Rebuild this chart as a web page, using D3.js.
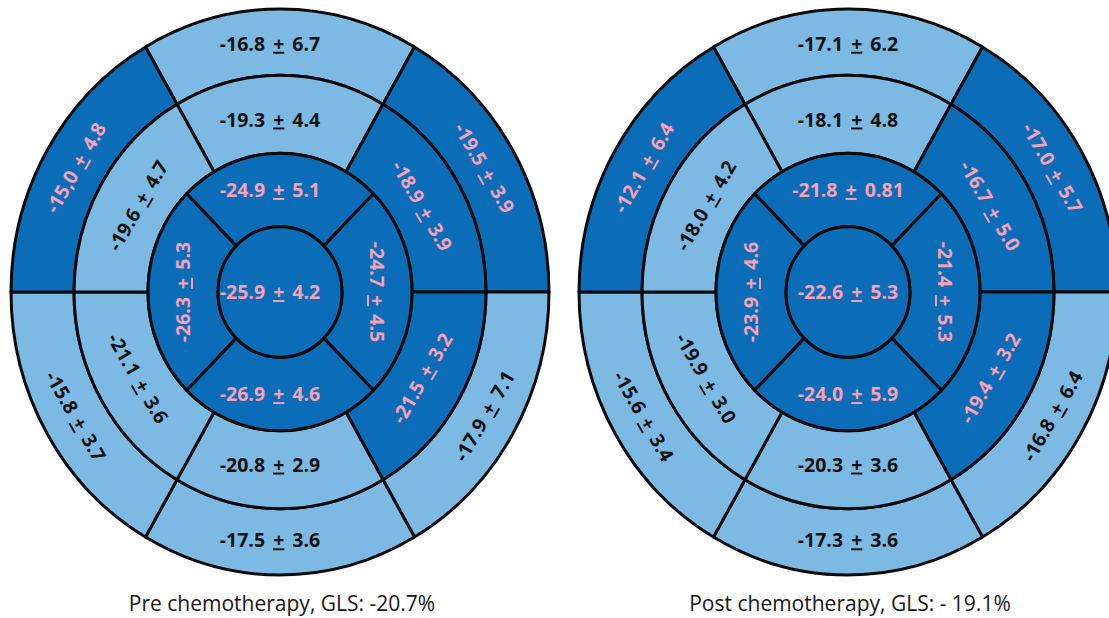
<!DOCTYPE html>
<html>
<head>
<meta charset="utf-8">
<script src="https://cdn.jsdelivr.net/npm/d3@7"></script>
<style>
  html, body { margin: 0; padding: 0; background: #ffffff; }
  svg { display: block; }
  text { font-family: "Open Sans", "DejaVu Sans", sans-serif; }
</style>
</head>
<body>
<svg id="chart" width="1109" height="618"></svg>
<script>
// ---------------- DATA ----------------
// Segments listed clockwise starting at the top (anterior) segment.
const ringNames = ["basal", "mid", "apical", "apex"];

const preBasalMean  = ["-16.8", "-19.5", "-17.9", "-17.5", "-15.8", "-15,0"];
const preBasalSD    = ["6.7", "3.9", "7.1", "3.6", "3.7", "4.8"];
const preMidMean    = ["-19.3", "-18.9", "-21.5", "-20.8", "-21.1", "-19.6"];
const preMidSD      = ["4.4", "3.9", "3.2", "2.9", "3.6", "4.7"];
const preApicalMean = ["-24.9", "-24.7", "-26.9", "-26.3"];
const preApicalSD   = ["5.1", "4.5", "4.6", "5.3"];
const preApexMean   = ["-25.9"];
const preApexSD     = ["4.2"];

const postBasalMean  = ["-17.1", "-17.0", "-16.8", "-17.3", "-15.6", "-12.1"];
const postBasalSD    = ["6.2", "5.7", "6.4", "3.6", "3.4", "6.4"];
const postMidMean    = ["-18.1", "-16.7", "-19.4", "-20.3", "-19.9", "-18.0"];
const postMidSD      = ["4.8", "5.0", "3.2", "3.6", "3.0", "4.2"];
const postApicalMean = ["-21.8", "-21.4", "-24.0", "-23.9"];
const postApicalSD   = ["0.81", "5.3", "5.9", "4.6"];
const postApexMean   = ["-22.6"];
const postApexSD     = ["5.3"];

// shading category: 1 = dark (reduced), 0 = light
const basalTone  = [0, 1, 0, 0, 0, 1];
const midTone    = [0, 1, 1, 0, 0, 0];
const apicalTone = [1, 1, 1, 1];
const apexTone   = [1];

const titles = ["Pre chemotherapy, GLS: -20.7%", "Post chemotherapy, GLS: - 19.1%"];

// ---------------- LAYOUT ----------------
const svg = d3.select("#chart");
const centers = [[280, 292], [848, 292]];
const textShift = [-10, 0];
const yScale = 1.052;                       // bullseye is slightly taller than wide
const radii = [62, 132, 206, 269];          // apex, apical, mid, basal outer
const labelR = { basal: 236, mid: 164, apical: 97, apex: 0 };
const colorScale = d3.scaleOrdinal().domain([0, 1]).range(["#7cbae4", "#0b6db8"]);
const textColor = d3.scaleOrdinal().domain([0, 1]).range(["#111111", "#f7a0b6"]);

function buildRings(bm, bs, mm, ms, am, as, xm, xs) {
  return [
    { ring: "basal", inner: radii[2], outer: radii[3], n: 6, offset: -30, mean: bm, sd: bs, tone: basalTone },
    { ring: "mid", inner: radii[1], outer: radii[2], n: 6, offset: -30, mean: mm, sd: ms, tone: midTone },
    { ring: "apical", inner: radii[0], outer: radii[1], n: 4, offset: -45, mean: am, sd: as, tone: apicalTone },
    { ring: "apex", inner: 0, outer: radii[0], n: 1, offset: 0, mean: xm, sd: xs, tone: apexTone }
  ];
}

const charts = [
  buildRings(preBasalMean, preBasalSD, preMidMean, preMidSD, preApicalMean, preApicalSD, preApexMean, preApexSD),
  buildRings(postBasalMean, postBasalSD, postMidMean, postMidSD, postApicalMean, postApicalSD, postApexMean, postApexSD)
];

const arc = d3.arc();
const toRad = Math.PI / 180;

charts.forEach((rings, ci) => {
  const [cx, cy] = centers[ci];
  const g = svg.append("g");
  const shapes = g.append("g").attr("transform", `translate(${cx},${cy}) scale(1,${yScale})`);
  const labels = g.append("g");

  rings.forEach(R => {
    const angScale = d3.scaleLinear().domain([0, R.n]).range([R.offset, R.offset + 360]);
    const segs = d3.range(R.n).map(i => ({
      i,
      a0: angScale(i),
      a1: angScale(i + 1),
      mean: R.mean[i],
      sd: R.sd[i],
      tone: R.tone[i]
    }));

    shapes.selectAll(null).data(segs).enter().append("path")
      .attr("d", d => R.n === 1
        ? arc({ innerRadius: 0, outerRadius: R.outer, startAngle: 0, endAngle: 2 * Math.PI })
        : arc({ innerRadius: R.inner, outerRadius: R.outer, startAngle: d.a0 * toRad, endAngle: d.a1 * toRad }))
      .attr("fill", d => colorScale(d.tone))
      .attr("stroke", "#0a0a0a")
      .attr("stroke-width", 3)
      .attr("vector-effect", "non-scaling-stroke")
      .attr("stroke-linejoin", "round");

    segs.forEach(d => {
      const a = R.n === 1 ? 0 : (d.a0 + d.a1) / 2;
      const r = labelR[R.ring];
      const x = cx + r * Math.sin(a * toRad);
      const y = cy - r * Math.cos(a * toRad) * yScale;
      const na = ((a + 90) % 360 + 360) % 360 - 90;   // normalise to [-90, 270)
      const rot = na <= 90 ? na : na - 180;
      const horiz = Math.abs(rot) < 1;
      const t = labels.append("text")
        .attr("transform", `translate(${x + (horiz ? textShift[ci] : 0)},${y}) rotate(${rot})`)
        .attr("text-anchor", "middle")
        .attr("dy", "0.36em")
        .attr("font-size", 19.5)
        .attr("font-weight", 700)
        .attr("fill", textColor(d.tone));
      t.append("tspan").text(d.mean + " ");
      t.append("tspan").attr("dx", 3).text("+").style("text-decoration", "underline");
      t.append("tspan").attr("dx", 3).text(" " + d.sd);
    });
  });

  svg.append("text")
    .attr("x", cx + 2)
    .attr("y", 611)
    .attr("text-anchor", "middle")
    .attr("font-size", 21)
    .attr("font-weight", 500)
    .attr("fill", "#161616")
    .text(titles[ci]);
});
</script>
</body>
</html>
